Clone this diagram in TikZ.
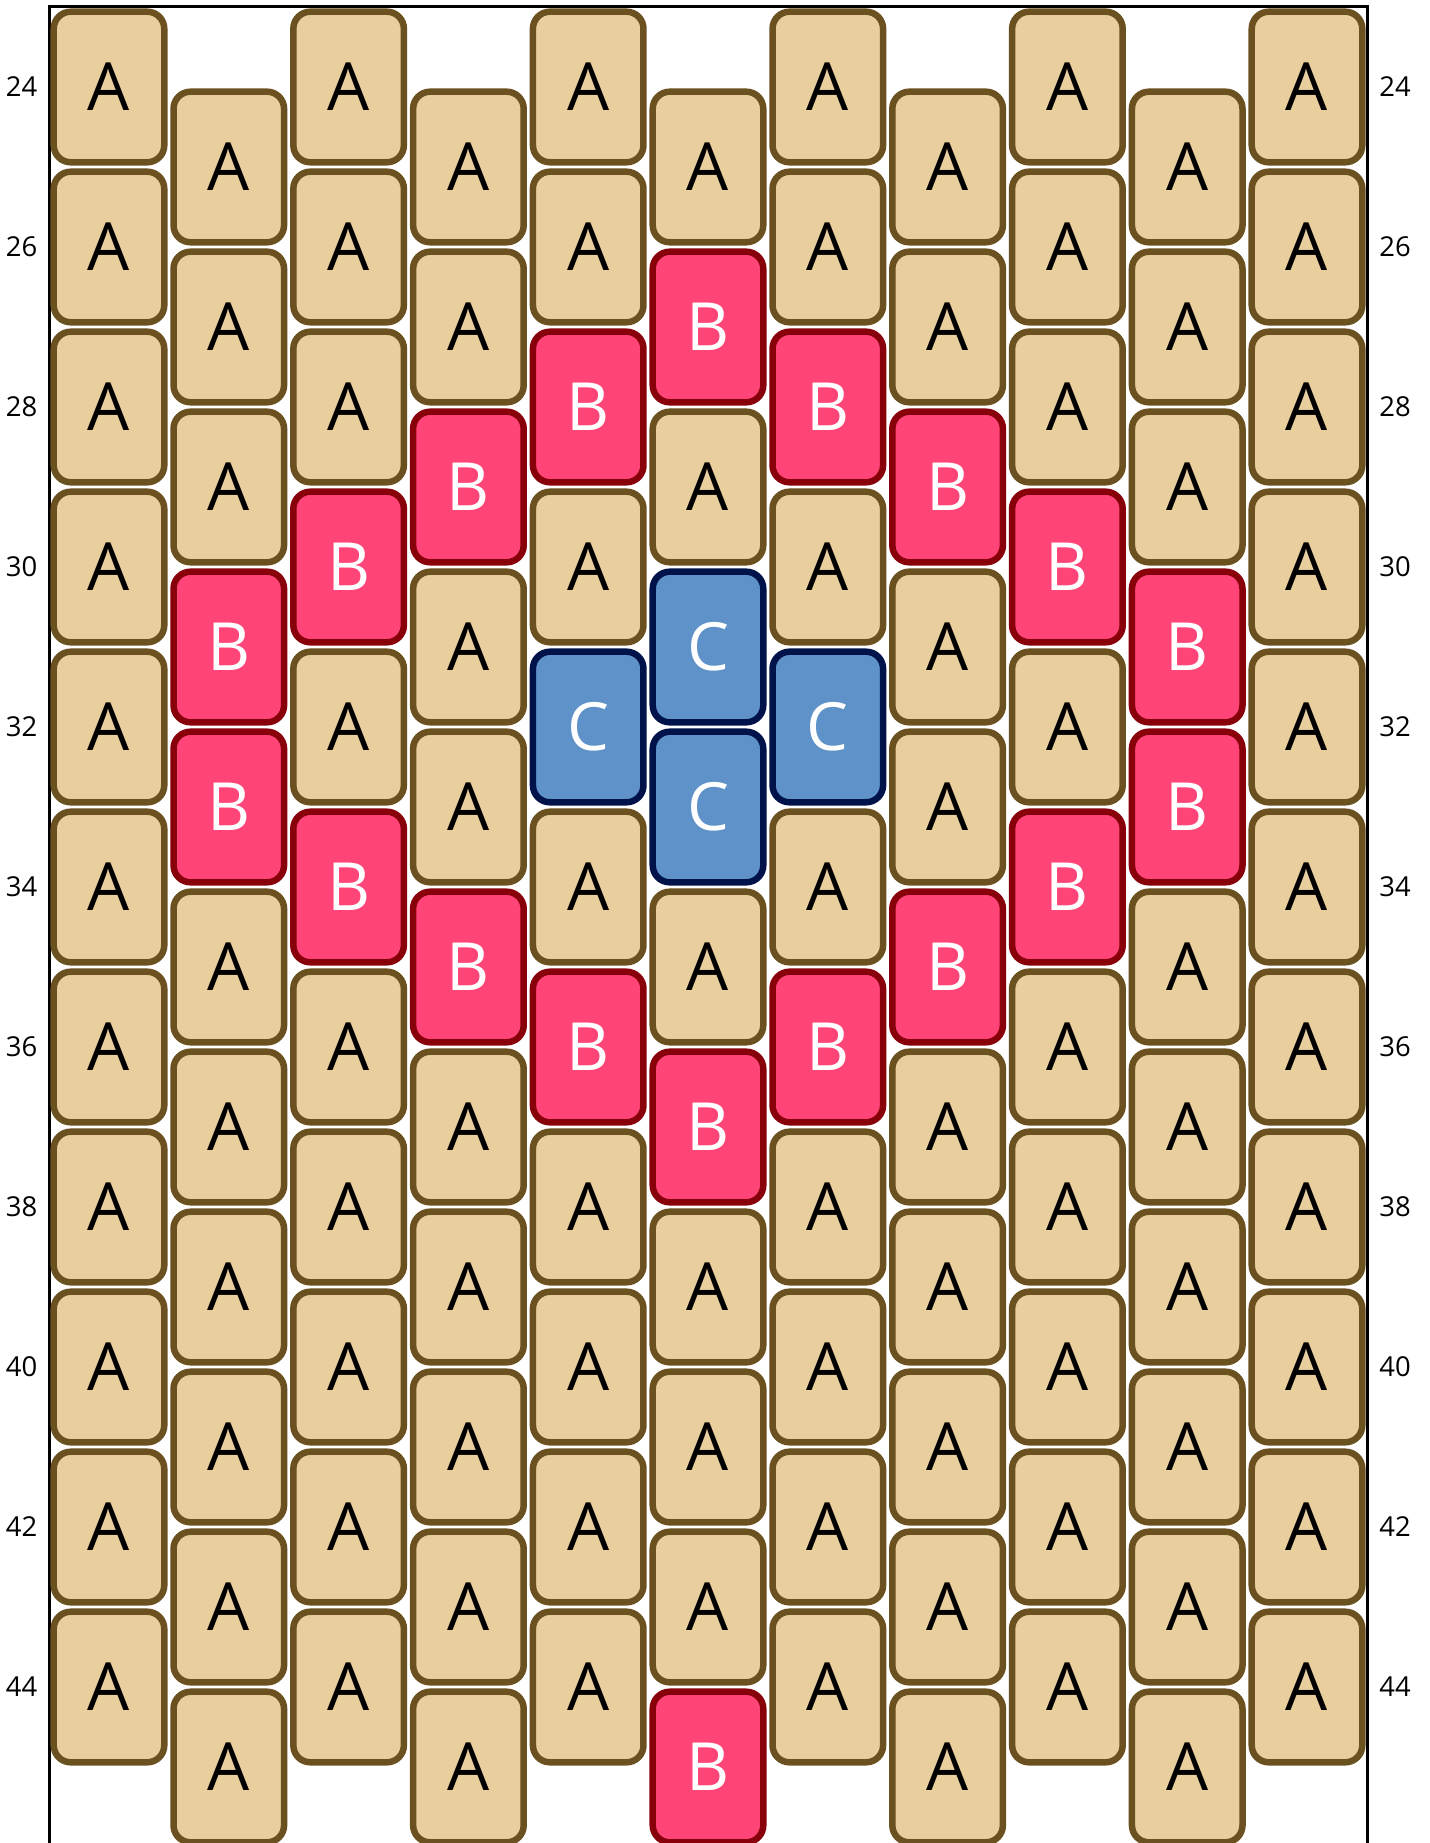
\documentclass[tikz,border=0pt]{standalone}
\usepackage{fontspec}
\setmainfont{Open Sans}
\definecolor{fillA}{RGB}{233, 206, 158}
\definecolor{drawA}{RGB}{107, 80, 32}
\definecolor{textA}{RGB}{0, 0, 0}
\definecolor{fillB}{RGB}{255, 69, 120}
\definecolor{drawB}{RGB}{136, 0, 10}
\definecolor{textB}{RGB}{255, 255, 255}
\definecolor{fillC}{RGB}{94, 146, 200}
\definecolor{drawC}{RGB}{0, 18, 74}
\definecolor{textC}{RGB}{255, 255, 255}

\begin{document}
\begin{tikzpicture}[
    x=0.01cm, y=-0.01cm,
    bead/.style={draw, rounded corners=0.17cm, line width=0.065cm,
                 minimum width=1.105cm, minimum height=1.505cm, inner sep=0pt,
                 font=\fontsize{18.9}{20}\selectfont},
    num/.style={inner sep=0pt, font=\fontsize{7.8}{9}\selectfont}
  ]
    \useasboundingbox (0,0) rectangle (1429,1843);
    % frame
    \draw[line width=0.03cm] (49,1843) -- (49,6.7) -- (1367,6.7) -- (1367,1843);
    % row numbers
    \foreach \k in {0,...,10} {
      \pgfmathtruncatemacro{\rownum}{24+2*\k}
      \node[num] (lnum-\k) at (21.5, {87+160*\k}) {\rownum};
      \node[num] (rnum-\k) at (1395, {87+160*\k}) {\rownum};
    }
    % beads, column by column
    \foreach \i/\beads in {
        0/{A,A,A,A,A,A,A,A,A,A,A},
        1/{A,A,A,B,B,A,A,A,A,A,A},
        2/{A,A,A,B,A,B,A,A,A,A,A},
        3/{A,A,B,A,A,B,A,A,A,A,A},
        4/{A,A,B,A,C,A,B,A,A,A,A},
        5/{A,B,A,C,C,A,B,A,A,A,B},
        6/{A,A,B,A,C,A,B,A,A,A,A},
        7/{A,A,B,A,A,B,A,A,A,A,A},
        8/{A,A,A,B,A,B,A,A,A,A,A},
        9/{A,A,A,B,B,A,A,A,A,A,A},
        10/{A,A,A,A,A,A,A,A,A,A,A}} {
      \foreach \t [count=\k from 0] in \beads {
        \node[bead, fill=fill\t, draw=draw\t, text=text\t]
          (bead-\i-\k) at ({109+119.8*\i}, {87+80*mod(\i,2)+160*\k}) {\t};
      }
    }
\end{tikzpicture}
\end{document}
